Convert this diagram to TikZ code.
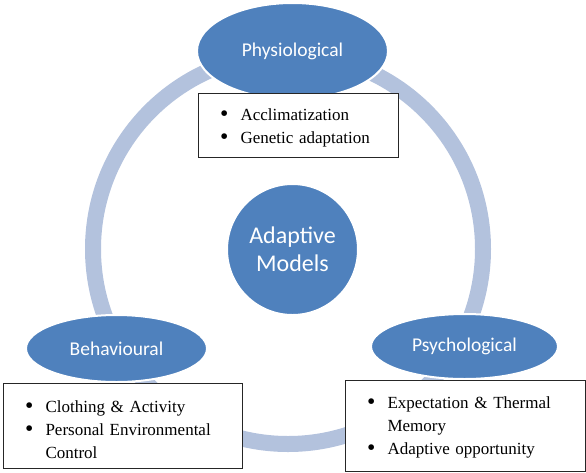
\documentclass[tikz,border=0pt]{standalone}
\usepackage{fontspec}
\setmainfont{Liberation Serif}
\newfontfamily\calibri{Carlito}
\usepackage{enumitem}
\setlist[itemize]{label={\raisebox{-1.3pt}{\scalebox{1.4}{\textbullet}}}, leftmargin=42pt, labelsep=12pt,
  rightmargin=4pt, topsep=0pt, itemsep=0pt, parsep=0pt, partopsep=0pt}
\usetikzlibrary{shapes.geometric}
\definecolor{ringblue}{HTML}{B3C2DD}
\definecolor{ovalblue}{HTML}{4F81BD}
\tikzset{
  oval/.style={ellipse, fill=ovalblue, draw=white, line width=2pt, inner sep=0pt,
    text=white, font=\calibri\fontsize{19.5}{23}\selectfont},
  listbox/.style={rectangle, draw=black!85, line width=1pt, fill=white, anchor=north west,
    inner xsep=0pt, inner ysep=0pt, font=\fontsize{17}{23}\selectfont}
}
\begin{document}
\begin{tikzpicture}[x=1pt, y=-1pt]
\useasboundingbox (0,0) rectangle (586,472);
% ring behind everything
\draw[ringblue, line width=16pt] (288,249) circle[radius=195];
% centre
\node[circle, fill=ovalblue, draw=white, line width=2pt, minimum size=131, inner sep=0pt,
  text=white, align=center, font=\calibri\fontsize{24}{28}\selectfont] (models) at (292.5,249.5) {Adaptive\\Models};
% the three ovals
\node[oval, minimum width=191, minimum height=96] (physio) at (292.5,51) {Physiological};
\node[oval, minimum width=181, minimum height=67] (behav) at (116.5,348.5) {Behavioural};
\node[oval, minimum width=187, minimum height=65] (psycho) at (464.5,346.5) {Psychological};
% lists
\node[listbox, text width=200, minimum height=64] (physiolist) at (198,93) {%
\begin{itemize}
\item Acclimatization
\item Genetic adaptation
\end{itemize}\kern6pt};
\node[listbox, text width=239, minimum height=85] (behavlist) at (3,383) {%
\begin{itemize}
\item Clothing \& Activity
\item Personal Environmental Control
\end{itemize}\kern4pt};
\node[listbox, text width=240, minimum height=91] (psycholist) at (345,380) {%
\begin{itemize}
\item Expectation \& Thermal Memory
\item Adaptive opportunity
\end{itemize}\kern8pt};
\end{tikzpicture}
\end{document}
